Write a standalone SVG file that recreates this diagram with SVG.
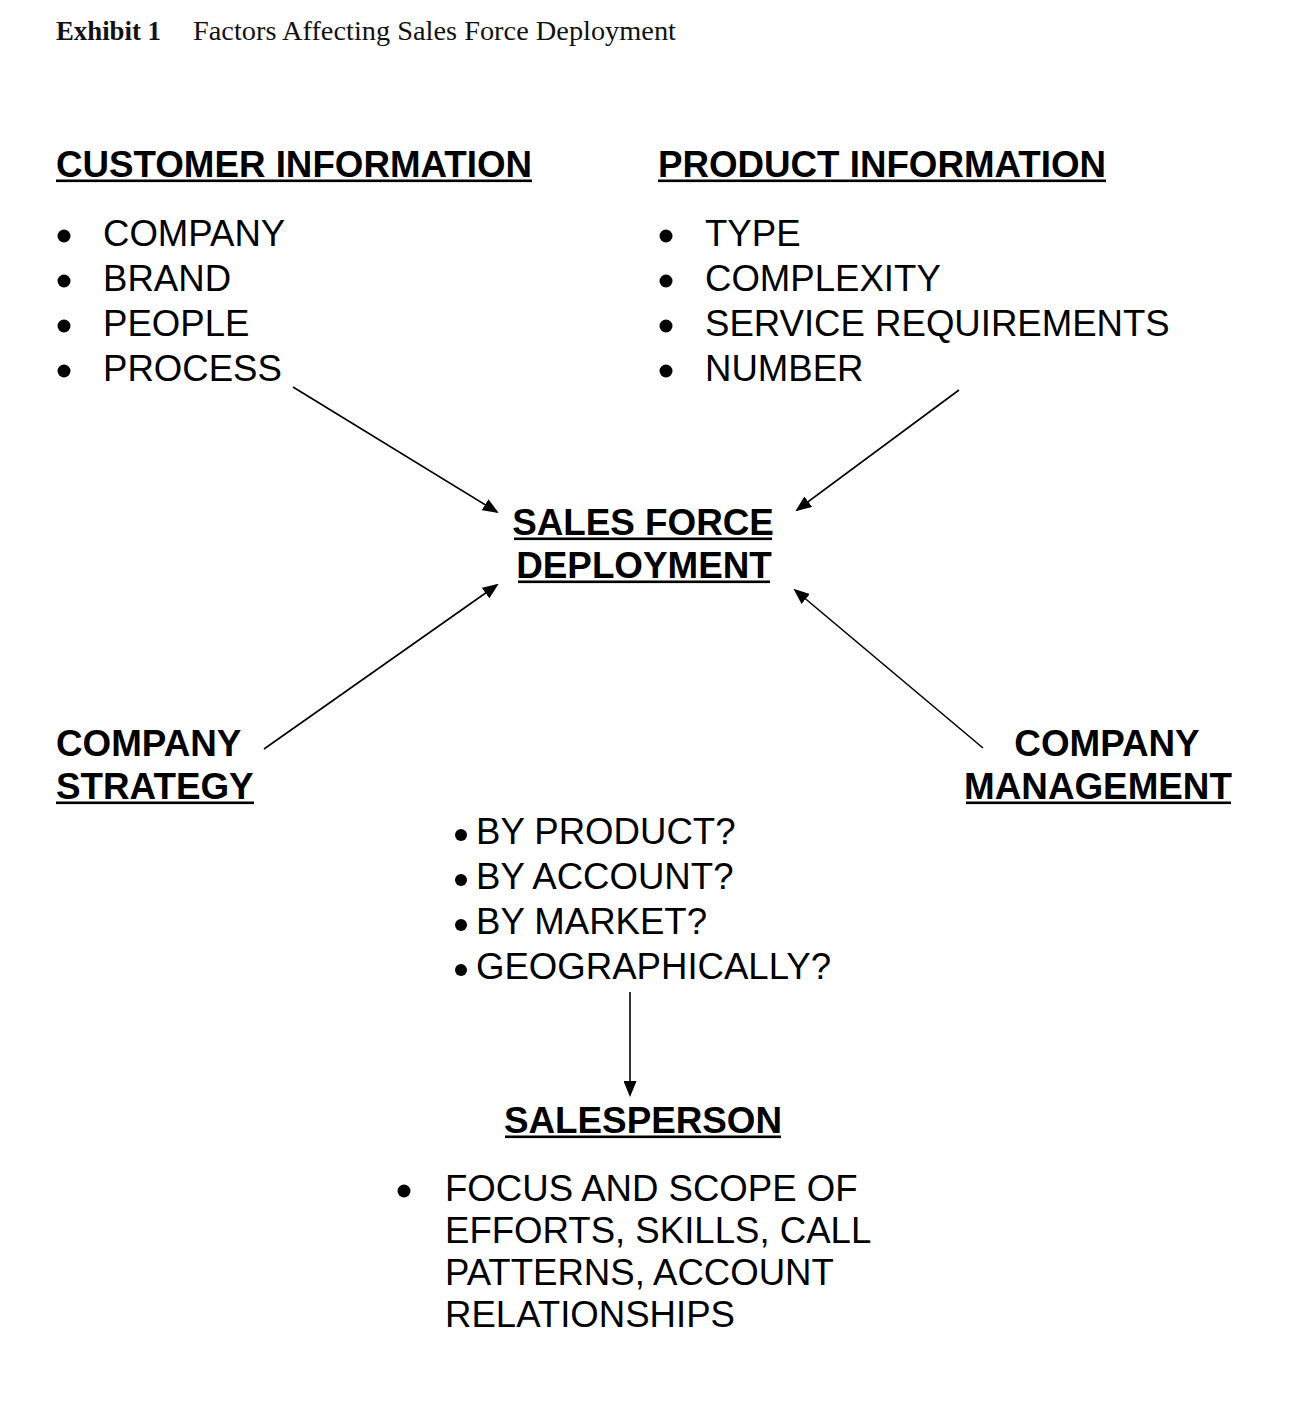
<svg xmlns="http://www.w3.org/2000/svg" width="1308" height="1408" viewBox="0 0 1308 1408">
<style>
  .h { font-family: "Liberation Sans", Arial, sans-serif; font-weight: bold; font-size: 36.8px; fill: #000; }
  .t { font-family: "Liberation Sans", Arial, sans-serif; font-size: 36.6px; fill: #000; }
  .ttl { font-family: "Liberation Serif", "Times New Roman", serif; font-size: 27px; fill: #111; }
  .ul { fill: #000; }
  .conn { stroke: #000; stroke-width: 1.6; fill: none; marker-end: url(#arr); }
</style>
<defs>
  <marker id="arr" markerUnits="userSpaceOnUse" markerWidth="16" markerHeight="13" refX="14" refY="6.5" orient="auto">
    <path d="M0,0 L16,6.5 L0,13 z" fill="#000"/>
  </marker>
</defs>
<rect width="1308" height="1408" fill="#fff"/>

<g id="title">
  <text class="ttl" x="56" y="40" font-weight="bold" textLength="105" lengthAdjust="spacingAndGlyphs">Exhibit 1</text>
  <text class="ttl" x="193" y="40" textLength="483" lengthAdjust="spacingAndGlyphs">Factors Affecting Sales Force Deployment</text>
</g>

<g id="customer-information">
  <text class="h" x="56" y="177" textLength="476" lengthAdjust="spacingAndGlyphs">CUSTOMER INFORMATION</text>
  <rect class="ul" x="56" y="179.5" width="476" height="2.6"/>
  <circle cx="64" cy="236" r="6.5"/>
  <circle cx="64" cy="281" r="6.5"/>
  <circle cx="64" cy="326" r="6.5"/>
  <circle cx="64" cy="371" r="6.5"/>
  <text class="t" x="103" y="246">COMPANY</text>
  <text class="t" x="103" y="291">BRAND</text>
  <text class="t" x="103" y="336">PEOPLE</text>
  <text class="t" x="103" y="381">PROCESS</text>
</g>

<g id="product-information">
  <text class="h" x="658" y="177" textLength="448" lengthAdjust="spacingAndGlyphs">PRODUCT INFORMATION</text>
  <rect class="ul" x="658" y="179.5" width="448" height="2.6"/>
  <circle cx="666" cy="236" r="6.5"/>
  <circle cx="666" cy="281" r="6.5"/>
  <circle cx="666" cy="326" r="6.5"/>
  <circle cx="666" cy="371" r="6.5"/>
  <text class="t" x="705" y="246">TYPE</text>
  <text class="t" x="705" y="291">COMPLEXITY</text>
  <text class="t" x="705" y="336">SERVICE REQUIREMENTS</text>
  <text class="t" x="705" y="381">NUMBER</text>
</g>

<g id="sales-force-deployment">
  <text class="h" x="643" y="535" text-anchor="middle">SALES FORCE</text>
  <rect class="ul" x="514" y="537.5" width="258" height="2.6"/>
  <text class="h" x="644" y="578" text-anchor="middle">DEPLOYMENT</text>
  <rect class="ul" x="518" y="580.5" width="252" height="2.6"/>
</g>

<g id="company-strategy">
  <text class="h" x="56" y="756">COMPANY</text>
  <text class="h" x="56" y="799">STRATEGY</text>
  <rect class="ul" x="56" y="801.5" width="198" height="2.6"/>
</g>

<g id="company-management">
  <text class="h" x="1107" y="756" text-anchor="middle">COMPANY</text>
  <text class="h" x="1098" y="799" text-anchor="middle">MANAGEMENT</text>
  <rect class="ul" x="966" y="801.5" width="265" height="2.6"/>
</g>

<g id="deployment-options">
  <circle cx="461" cy="835" r="6"/>
  <circle cx="461" cy="880" r="6"/>
  <circle cx="461" cy="925" r="6"/>
  <circle cx="461" cy="970" r="6"/>
  <text class="t" x="476" y="844">BY PRODUCT?</text>
  <text class="t" x="476" y="889">BY ACCOUNT?</text>
  <text class="t" x="476" y="934">BY MARKET?</text>
  <text class="t" x="476" y="979">GEOGRAPHICALLY?</text>
</g>

<g id="salesperson">
  <text class="h" x="643" y="1133" text-anchor="middle">SALESPERSON</text>
  <rect class="ul" x="505" y="1135.5" width="276" height="2.6"/>
  <circle cx="404" cy="1191" r="6.5"/>
  <text class="t" x="445" y="1201">FOCUS AND SCOPE OF</text>
  <text class="t" x="445" y="1243">EFFORTS, SKILLS, CALL</text>
  <text class="t" x="445" y="1285">PATTERNS, ACCOUNT</text>
  <text class="t" x="445" y="1327">RELATIONSHIPS</text>
</g>

<g id="connectors">
  <line class="conn" x1="293" y1="387" x2="497" y2="512"/>
  <line class="conn" x1="959" y1="390" x2="797" y2="510"/>
  <line class="conn" x1="264" y1="749" x2="497" y2="585"/>
  <line class="conn" x1="983" y1="748" x2="795" y2="590"/>
  <line class="conn" x1="630" y1="992" x2="630" y2="1095"/>
</g>
</svg>
